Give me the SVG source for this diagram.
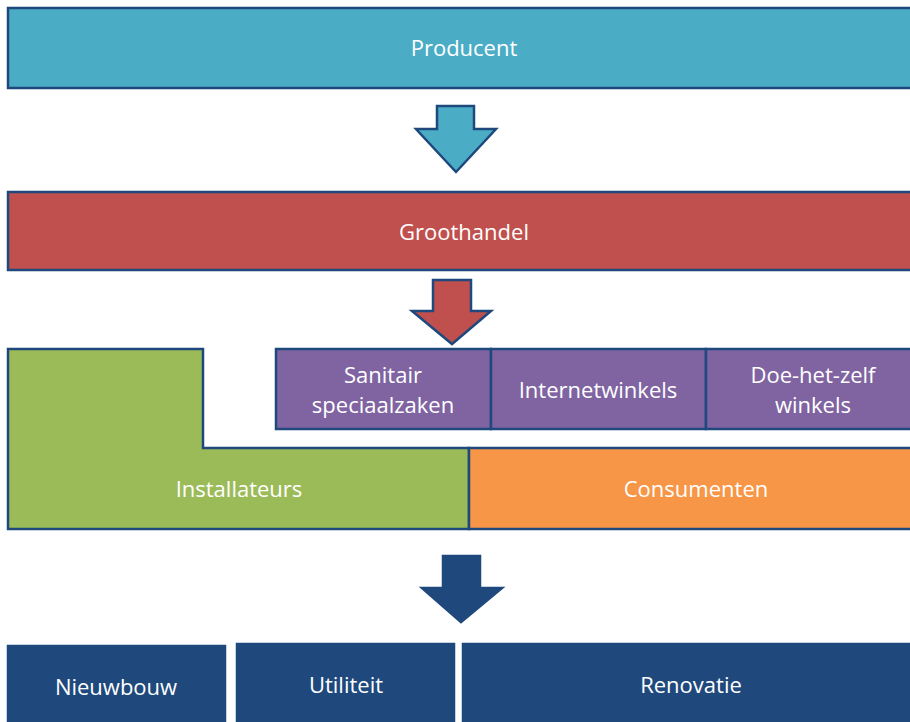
<svg xmlns="http://www.w3.org/2000/svg" width="910" height="722" viewBox="0 0 910 722">
  <style>
    .box { stroke: #1F497D; stroke-width: 2.5; }
    .arrow { stroke: #1F497D; stroke-width: 2.5; stroke-linejoin: miter; }
    .lbl { font-family: "Open Sans", "Noto Sans", sans-serif; font-size: 22px; fill: #FFFFFF; text-anchor: middle; dominant-baseline: central; }
  </style>
  <rect width="910" height="722" fill="#FFFFFF"/>

  <g id="producent">
    <rect class="box" x="8" y="8" width="910" height="80" fill="#4BACC6"/>
    <text class="lbl" x="464" y="47">Producent</text>
  </g>

  <g id="groothandel">
    <rect class="box" x="8" y="192" width="910" height="78" fill="#C0504D"/>
    <text class="lbl" x="464" y="231">Groothandel</text>
  </g>

  <g id="installateurs">
    <path class="box" d="M8,349 H203 V448 H469 V529 H8 Z" fill="#9BBB59"/>
    <text class="lbl" x="239" y="488">Installateurs</text>
  </g>

  <g id="sanitair">
    <rect class="box" x="276" y="349" width="215" height="80" fill="#8064A2"/>
    <text class="lbl" x="383" y="374">Sanitair</text>
    <text class="lbl" x="383" y="404">speciaalzaken</text>
  </g>

  <g id="internetwinkels">
    <rect class="box" x="491" y="349" width="215" height="80" fill="#8064A2"/>
    <text class="lbl" x="598" y="389">Internetwinkels</text>
  </g>

  <g id="doe-het-zelf">
    <rect class="box" x="706" y="349" width="215" height="80" fill="#8064A2"/>
    <text class="lbl" x="813" y="374">Doe-het-zelf</text>
    <text class="lbl" x="813" y="404">winkels</text>
  </g>

  <g id="consumenten">
    <rect class="box" x="469" y="448" width="450" height="81" fill="#F79646"/>
    <text class="lbl" x="696" y="488">Consumenten</text>
  </g>

  <g id="nieuwbouw">
    <rect class="box" x="8" y="646" width="217" height="90" fill="#1F497D" stroke="#2E5A8E"/>
    <text class="lbl" x="116" y="686">Nieuwbouw</text>
  </g>

  <g id="utiliteit">
    <rect class="box" x="237" y="644" width="217" height="90" fill="#1F497D" stroke="#2E5A8E"/>
    <text class="lbl" x="346" y="684">Utiliteit</text>
  </g>

  <g id="renovatie">
    <rect class="box" x="463" y="644" width="460" height="90" fill="#1F497D" stroke="#2E5A8E"/>
    <text class="lbl" x="691" y="684">Renovatie</text>
  </g>

  <g id="connectors">
    <path class="arrow" d="M437,106 H474 V129 H496 L456,172 L416,129 H437 Z" fill="#4BACC6"/>
    <path class="arrow" d="M433,280 H471 V311 H491 L452,344 L412,311 H433 Z" fill="#C0504D"/>
    <path class="arrow" d="M443,556 H480 V588 H502 L461,622 L422,588 H443 Z" fill="#1F497D" stroke="#2E5A8E"/>
  </g>
</svg>
